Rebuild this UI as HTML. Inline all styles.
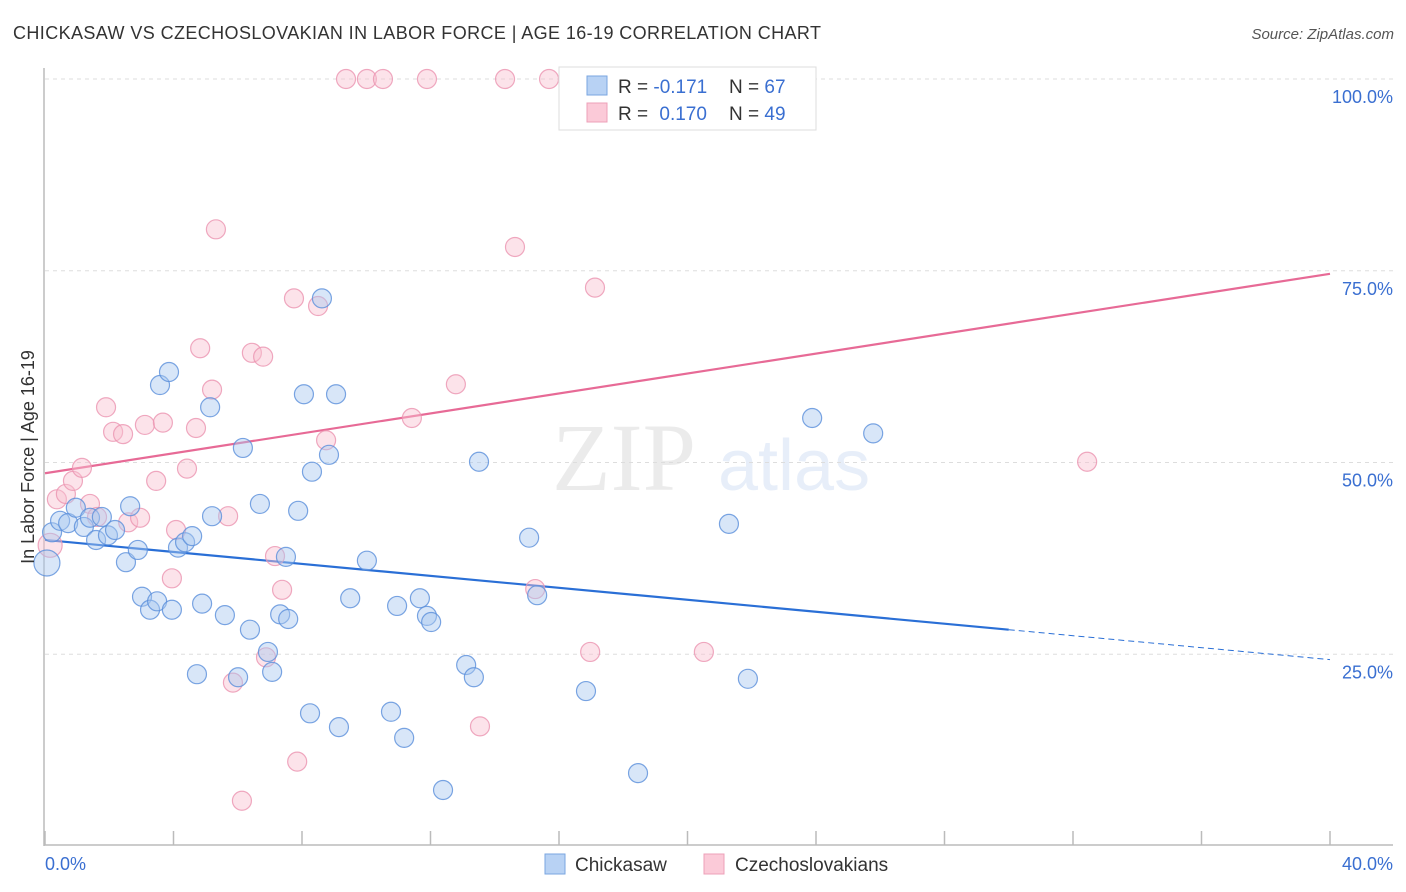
<!DOCTYPE html>
<html><head><meta charset="utf-8"><style>
body{margin:0;background:#fff;font-family:"Liberation Sans",sans-serif}
svg{display:block}
</style></head><body>
<svg id="chart" width="1406" height="892" viewBox="0 0 1406 892" xmlns="http://www.w3.org/2000/svg">
<text x="13" y="39" font-size="18" fill="#333" textLength="808" lengthAdjust="spacing">CHICKASAW VS CZECHOSLOVAKIAN IN LABOR FORCE | AGE 16-19 CORRELATION CHART</text>
<text x="1394" y="39" font-size="15" fill="#555" text-anchor="end" font-style="italic">Source: ZipAtlas.com</text>
<g opacity="0.14">
<text x="552" y="490" font-size="96" fill="#777" font-family="Liberation Serif, serif">ZIP</text>
<text x="718" y="490" font-size="72" fill="#5b8fd6">atlas</text>
</g>
<g id="grid"></g>
<g id="axes"></g>
<g id="lines"></g>
<g id="points"></g>
<text transform="translate(34,457) rotate(-90)" font-size="18" fill="#333" text-anchor="middle">In Labor Force | Age 16-19</text>
<g>
<rect x="559" y="67" width="257" height="63" fill="#fff" stroke="#ddd"/>
<rect x="587" y="76" width="20" height="19" fill="#b8d2f4" stroke="#7aa6e0"/>
<rect x="587" y="103" width="20" height="19" fill="#fbcad8" stroke="#eea0b8"/>
<text x="618" y="93" font-size="19" fill="#333">R = <tspan fill="#3a6fd1">-0.171</tspan></text>
<text x="729" y="93" font-size="19" fill="#333">N = <tspan fill="#3a6fd1">67</tspan></text>
<text x="618" y="120" font-size="19" fill="#333">R = <tspan fill="#3a6fd1" dx="6">0.170</tspan></text>
<text x="729" y="120" font-size="19" fill="#333">N = <tspan fill="#3a6fd1">49</tspan></text>
</g>
<g>
<rect x="545" y="854" width="20" height="20" fill="#b8d2f4" stroke="#7aa6e0"/>
<text x="575" y="871" font-size="19" fill="#333">Chickasaw</text>
<rect x="704" y="854" width="20" height="20" fill="#fbcad8" stroke="#eea0b8"/>
<text x="735" y="871" font-size="19" fill="#333">Czechoslovakians</text>
</g>
</svg>
<script>
const blueX=[0.06,0.22,0.47,0.72,0.96,1.21,1.40,1.59,1.77,1.96,2.18,2.52,2.65,2.89,3.02,3.27,3.49,3.58,3.86,3.95,4.14,4.36,4.58,4.73,4.89,5.14,5.20,5.60,6.01,6.16,6.38,6.69,6.94,7.07,7.32,7.50,7.57,7.88,8.06,8.25,8.31,8.62,8.84,9.06,9.15,9.50,10.02,10.77,10.96,11.18,11.67,11.89,12.02,12.39,13.11,13.35,13.51,15.07,15.32,16.84,18.46,21.29,21.88,23.88,25.78];
const blueY=[36.9,40.9,42.4,42.1,44.1,41.6,42.8,39.9,42.9,40.5,41.2,37.0,44.3,38.6,32.5,30.8,31.9,60.1,61.8,30.8,38.9,39.6,40.4,22.4,31.6,57.2,43.0,30.1,22.0,51.9,28.2,44.6,25.3,22.7,30.2,37.7,29.6,43.7,58.9,17.3,48.8,71.4,51.0,58.9,15.5,32.3,37.2,17.5,31.3,14.1,32.3,30.0,29.2,7.3,23.6,22.0,50.1,40.2,32.7,20.2,9.5,42.0,21.8,55.8,53.8];
const pinkX=[0.16,0.37,0.65,0.87,1.15,1.40,1.62,2.12,1.90,2.43,2.59,2.96,3.11,3.46,3.67,3.95,4.08,4.42,4.70,4.83,5.20,5.32,5.70,5.85,6.13,6.44,6.79,6.88,7.16,7.38,7.75,7.85,8.50,8.75,9.37,10.02,10.52,11.42,11.89,12.79,13.54,14.32,14.63,15.26,15.69,16.97,17.12,20.51,32.44];
const pinkY=[39.2,45.2,45.9,47.6,49.3,44.6,42.9,54.0,57.2,53.7,42.2,42.8,54.9,47.6,55.2,34.9,41.2,49.2,54.5,64.9,59.5,80.4,43.0,21.3,5.9,64.3,63.8,24.6,37.8,33.4,71.4,11.0,70.4,52.9,100,100,100,55.8,100,60.2,15.6,100,78.1,33.5,100,25.3,72.8,25.3,50.1];
const blueLine=[39.9,24.3], blueSolidEnd=30.0;
const pinkLine=[48.6,74.6];
const yTicks=[25,50,75,100], yTickLabels=["25.0%","50.0%","75.0%","100.0%"];
const xTicks=[0,4,8,12,16,20,24,28,32,36,40];

const NS="http://www.w3.org/2000/svg";
const sx=v=>45+v/40*1285, sy=v=>846-v/100*767;
function mk(tag,at,parent){const e=document.createElementNS(NS,tag);for(const k in at)e.setAttribute(k,at[k]);parent.appendChild(e);return e;}
const grid=document.getElementById('grid'),axes=document.getElementById('axes'),lines=document.getElementById('lines'),pts=document.getElementById('points');
yTicks.forEach((t,i)=>{
 const l=mk('line',{x1:45,x2:1393,y1:sy(t),y2:sy(t),stroke:'#ddd','stroke-dasharray':'4,4'},grid);
 
 
 const tx=mk('text',{x:1393,y:sy(t)+24,'font-size':18,fill:'#3a6fd1','text-anchor':'end'},axes);
 tx.textContent=yTickLabels[i];
 
 
});
mk('line',{x1:44,x2:44,y1:68,y2:846,stroke:'#bbb','stroke-width':1.5},axes);
mk('line',{x1:44,x2:1393,y1:845,y2:845,stroke:'#bbb','stroke-width':1.5},axes);
xTicks.forEach(t=>{const l=mk('line',{x1:sx(t),x2:sx(t),y1:831,y2:845,stroke:'#bbb','stroke-width':1.5},axes);
 
 });
let a=mk('text',{x:45,y:870,'font-size':18,fill:'#3a6fd1'},axes);a.textContent='0.0%';


a=mk('text',{x:1393,y:870,'font-size':18,fill:'#3a6fd1','text-anchor':'end'},axes);a.textContent='40.0%';


function drawPts(X,Y,fill,stroke,name,bigR){X.forEach((x,i)=>{const big=x<0.2;
 const c=mk('circle',{cx:sx(x),cy:sy(Y[i]),r:big?bigR:9.5,fill:fill,'fill-opacity':0.45,stroke:stroke,'stroke-opacity':0.8,'stroke-width':1.2},pts);
 
 });}
drawPts(pinkX,pinkY,'#f9c0d0','#eb94b0','czechoslovakian-point',12);
drawPts(blueX,blueY,'#a9c8f0','#5a8fdb','chickasaw-point',13);
const bs=(v)=>blueLine[0]+(blueLine[1]-blueLine[0])*v/40;
let l=mk('line',{x1:sx(0),y1:sy(blueLine[0]),x2:sx(blueSolidEnd),y2:sy(bs(blueSolidEnd)),stroke:'#2a6fd6','stroke-width':2.2},lines);


l=mk('line',{x1:sx(blueSolidEnd),y1:sy(bs(blueSolidEnd)),x2:sx(40),y2:sy(blueLine[1]),stroke:'#2a6fd6','stroke-width':1,'stroke-dasharray':'6,4'},lines);


l=mk('line',{x1:sx(0),y1:sy(pinkLine[0]),x2:sx(40),y2:sy(pinkLine[1]),stroke:'#e76a96','stroke-width':2.2},lines);


</script>
</body></html>
